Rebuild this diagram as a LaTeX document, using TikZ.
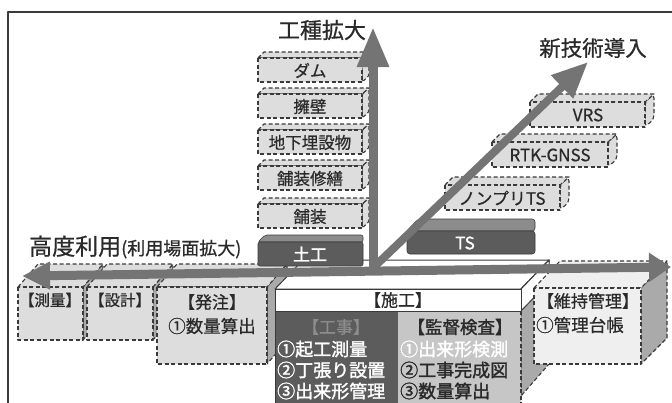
\documentclass[tikz,border=0pt]{standalone}
\usepackage{fontspec}
\setmainfont{Noto Sans CJK JP}[UprightFeatures={FakeBold=0.7}]
\newfontfamily\jpbold{Noto Sans CJK JP}[FakeBold=1.6]
\usetikzlibrary{arrows.meta}
\newcommand\jfs[1]{\fontsize{#1}{#1}\selectfont}
\definecolor{axisgray}{HTML}{747474}
\definecolor{boxfill}{HTML}{DDDDDD}
\definecolor{edge}{HTML}{3A3A3A}
\definecolor{darkbox}{HTML}{5C5C5C}
\definecolor{darktop}{HTML}{8C8C8C}
\definecolor{sidegray}{HTML}{AAAAAA}
\definecolor{txt}{HTML}{2A2A2A}
\definecolor{insp}{HTML}{C6C6C6}
\definecolor{paleb}{HTML}{EFEFEF}
\tikzset{
  dsh/.style={draw=edge, dash pattern=on 4pt off 2.5pt, line width=1.1pt},
  lbox/.style={dsh, fill=boxfill},
  sidebox/.style={dsh, fill=sidegray},
  solidbox/.style={draw=edge, line width=1pt},
  lbl/.style={inner sep=0pt, text=txt},
  axis/.style={draw=axisgray, line width=9pt},
}
\begin{document}
\begin{tikzpicture}[x=1pt,y=-1pt,line join=round]
\useasboundingbox (0,0) rectangle (672,402);
\fill[white] (0,0) rectangle (672,402);
% frame
\draw[edge, line width=1.8pt] (8,403) -- (8,12) -- (673,12);

% ---------- bottom phase boxes ----------
% survey
\path[sidebox] (83,287) -- (103,264) -- (103,317) -- (83,340) -- cycle;
\path[lbox] (18,287) -- (38,264) -- (103,264) -- (83,287) -- cycle;
\path[lbox] (18,287) rectangle (83,340);
% design
\path[sidebox] (153,287) -- (173,264) -- (173,317) -- (153,340) -- cycle;
\path[lbox] (87,287) -- (107,264) -- (173,264) -- (153,287) -- cycle;
\path[lbox] (87,287) rectangle (153,340);
% order
\path[sidebox] (267,287) -- (287,264) -- (287,341) -- (267,364) -- cycle;
\path[lbox] (157,287) -- (177,264) -- (287,264) -- (267,287) -- cycle;
\path[lbox] (157,287) rectangle (267,364);
\node[lbl, font={\jfs{15.5}}] (survey) at (50,300) {【測量】};
\node[lbl, font={\jfs{15.5}}] (design) at (120,300) {【設計】};
\node[lbl, font={\jfs{17}}] (order) at (212,302) {【発注】};
\node[lbl, font={\jfs{17.5}}] (orderq) at (212,326) {①数量算出};

% construction box
\path[solidbox, fill=white] (275,289) -- (303,260) -- (549,260) -- (521,289) -- cycle;
\path[sidebox] (521,289) -- (549,260) -- (549,364) -- (521,396) -- cycle;
\path[solidbox, fill=white] (521,289) -- (549,260) -- (549,282) -- (521,311) -- cycle;
\path[fill=darkbox] (275,311) rectangle (398,403);
\path[fill=insp] (398,311) rectangle (521,403);
\draw[dsh] (521,311) -- (521,403);
\path[solidbox, fill=white] (275,289) rectangle (521,311);
\draw[edge, line width=1pt] (275,311) -- (275,403);
\node[lbl, font={\jfs{17}}] (sekou) at (398,300) {【施工】};
\node[lbl, font={\jfs{17}}, text=darktop] (kouji) at (336,327) {【工事】};
\node[lbl, font={\jpbold\jfs{18}}, text=white, anchor=west] (k1) at (277,349) {①起工測量};
\node[lbl, font={\jpbold\jfs{18}}, text=white, anchor=west] (k2) at (277,370) {②丁張り設置};
\node[lbl, font={\jpbold\jfs{18}}, text=white, anchor=west] (k3) at (277,391) {③出来形管理};
\node[lbl, font={\jpbold\jfs{17.5}}] (kantoku) at (460,327) {【監督検査】};
\node[lbl, font={\jpbold\jfs{18}}, text=white, anchor=west] (m1) at (400,349) {①出来形検測};
\node[lbl, font={\jpbold\jfs{18}}, anchor=west] (m2) at (400,370) {②工事完成図};
\node[lbl, font={\jpbold\jfs{18}}, anchor=west] (m3) at (400,391) {③数量算出};

% maintenance
\path[sidebox] (641,288) -- (667,261) -- (667,338) -- (641,364) -- cycle;
\path[dsh, fill=paleb] (534,288) -- (560,261) -- (667,261) -- (641,288) -- cycle;
\path[dsh, fill=paleb] (534,288) rectangle (641,364);
\node[lbl, font={\jfs{17}}] (maint) at (588,301) {【維持管理】};
\node[lbl, font={\jfs{17.5}}, anchor=west] (ledger) at (536,325) {①管理台帳};

% ---------- earthwork and TS ----------
\path[fill=darktop, draw=edge, line width=0.6pt, rounded corners=2] (258,242) -- (265,235) -- (363,235) -- (363,242) -- cycle;
\path[fill=darkbox, draw=edge, line width=0.6pt, rounded corners=2] (258,242) rectangle (363,266);
\node[lbl, font={\jpbold\jfs{17}}, text=white] (doko) at (310,254) {土工};
\path[fill=darktop, draw=edge, line width=0.6pt, rounded corners=3] (407,231) -- (418,219) -- (535,219) -- (535,231) -- cycle;
\path[fill=darkbox, draw=edge, line width=0.6pt, rounded corners=3] (407,231) rectangle (535,254);
\node[lbl, font={\jpbold\jfs{17}}, text=white] (ts) at (465,243) {TS};

% ---------- vertical stack ----------
\foreach \yt/\t/\n in {58/ダム/dam,94/擁壁/wall,130/地下埋設物/buried,166/舗装修繕/repair,204/舗装/pave}{
  \path[lbox, rounded corners=2.5] (362,\yt) -- (369,\yt-6) -- (369,\yt+18) -- (362,\yt+24) -- cycle;
  \path[lbox] (258,\yt) -- (264,\yt-6) -- (369,\yt-6) -- (362,\yt) -- cycle;
  \path[lbox] (258,\yt) rectangle (362,\yt+24);
  \node[lbl, font={\jfs{16.5}}] (st-\n) at (310,\yt+12.5) {\t};
}

% ---------- technology boxes ----------
\foreach \xl/\yt/\w/\t/\n/\tx in {445/185/115/ノンプリTS/nonp/502, 492/142/116/RTK-GNSS/rtk/550, 530/102/115/VRS/vrs/588}{
  \path[lbox, rounded corners=4] (\xl+\w,\yt) -- (\xl+\w+9,\yt-8) -- (\xl+\w+9,\yt+17) -- (\xl+\w,\yt+25) -- cycle;
  \path[lbox] (\xl,\yt) -- (\xl+8,\yt-8) -- (\xl+\w+9,\yt-8) -- (\xl+\w,\yt) -- cycle;
  \path[lbox] (\xl,\yt) rectangle (\xl+\w,\yt+25);
  \node[lbl, font={\jfs{17}}] (tb-\n) at (\tx,\yt+13) {\t};
}

% ---------- axes ----------
\coordinate (o) at (373,271);
\coordinate (lt) at (22,276);
\coordinate (rt) at (671,267);
\coordinate (up) at (373,27);
\coordinate (dg) at (588,62);
\draw[axis, {Triangle[width=26pt,length=28pt]}-{Triangle[width=28pt,length=22pt]}] (lt) -- (rt);
\draw[axis, -{Triangle[width=30pt,length=40pt]}] (o) -- (up);
\draw[axis, line width=8pt, -{Triangle[width=30pt,length=36pt]}] (373,268) -- (dg);

% ---------- titles ----------
\node[lbl, font={\jfs{22}}] (kind) at (322,30) {工種拡大};
\node[lbl, font={\jfs{21.5}}] (newtech) at (593,48) {新技術導入};
\node[lbl, anchor=west] (advanced) at (29,247) {{\jfs{23}高度利用}{\jfs{18}(利用場面拡大)}};
\end{tikzpicture}
\end{document}
